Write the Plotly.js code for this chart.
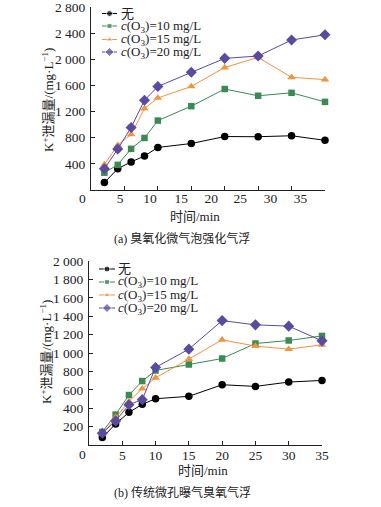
<!DOCTYPE html>
<html><head><meta charset="utf-8">
<script src="https://cdn.plot.ly/plotly-3.0.1.min.js"></script>
<style>body{margin:0;background:#fff;overflow:hidden} #a{width:381px;height:250px} #b{width:381px;height:257px}</style>
</head><body><div id="a"></div><div id="b"></div>
<script>
// ---- data ----
const timeMin = [2, 4, 6, 8, 10, 15, 20, 25, 30, 35];
const seriesNames = ['无', '<i>c</i>(O<sub>3</sub>)=10 mg/L', '<i>c</i>(O<sub>3</sub>)=15 mg/L', '<i>c</i>(O<sub>3</sub>)=20 mg/L'];
// (a) ozonated micro-bubble enhanced flotation
const a_none = [114, 325, 430, 520, 651, 711, 818, 815, 830, 760];
const a_10   = [265, 385, 630, 796, 1062, 1283, 1545, 1442, 1487, 1348];
const a_15   = [390, 686, 851, 1247, 1408, 1584, 1874, 2029, 1724, 1689];
const a_20   = [325, 626, 956, 1373, 1584, 1803, 2014, 2050, 2295, 2375];
// (b) conventional micro-porous aeration ozone flotation
const b_none = [81, 229, 355, 442, 503, 529, 655, 637, 684, 702];
const b_10   = [142, 330, 543, 695, 810, 875, 940, 1103, 1136, 1186];
const b_15   = [117, 301, 474, 612, 731, 934, 1143, 1075, 1042, 1089];
const b_20   = [127, 262, 438, 493, 843, 1042, 1352, 1306, 1292, 1132];
const xTickVals = [5, 10, 15, 20, 25, 30, 35];
const xTickText = ['5', '10', '15', '20', '25', '30', '35'];
const aYTicks = [400, 800, 1200, 1600, 2000, 2400, 2800];
const bYTicks = [200, 400, 600, 800, 1000, 1200, 1400, 1600, 1800, 2000];
const xTitle = '时间/min';
const yTitle = 'K<sup>+</sup>泄漏量/(mg·L<sup>−1</sup>)';
const captionA = '(a) 臭氧化微气泡强化气浮';
const captionB = '(b) 传统微孔曝气臭氧气浮';

// ---- styles ----
const FONT = 'Liberation Serif, "Noto Sans CJK SC", serif';
const styles = [
  {color: '#000000', symbol: 'circle', size: 7.5},
  {color: '#3a8a52', symbol: 'square', size: 6.5},
  {color: '#f29340', symbol: 'triangle-up', size: 7.5},
  {color: '#5a4aa0', symbol: 'diamond', size: 8.5}
];
// shifted label positions as they appear in panel (a)
const aLabelPos = [4.35, 8.84, 13.49, 17.99, 22.34, 26.83, 31.33];

function build(divId, W, H, m, yMax, yTicks, series, legendRows, legendLine, legendTextX, caption, capPos, xTitlePos, yTitlePos, zeroPos, shiftedLabels) {
  const pw = W - m.l - m.r, ph = H - m.t - m.b;
  const px = x => (x - m.l) / pw;
  const py = y => (H - m.b - y) / ph;
  const traces = series.map((ys, i) => ({
    x: timeMin, y: ys, type: 'scatter', mode: 'lines+markers', name: seriesNames[i],
    line: {color: styles[i].color, width: 1},
    marker: {color: styles[i].color, symbol: styles[i].symbol, size: styles[i].size},
    showlegend: false, cliponaxis: false
  }));
  // custom compact legend samples on a pixel-unit overlay axis
  const annotations = [];
  legendRows.forEach((ry, i) => {
    const mid = (legendLine[0] + legendLine[1]) / 2;
    traces.push({
      x: [legendLine[0], mid, legendLine[1]], y: [ry, ry, ry], xaxis: 'x2', yaxis: 'y2',
      type: 'scatter', mode: 'lines+markers', showlegend: false, hoverinfo: 'skip',
      line: {color: styles[i].color, width: 1},
      marker: {color: styles[i].color, symbol: styles[i].symbol, size: [0, styles[i].size - 1.5, 0]}
    });
    annotations.push({xref: 'paper', yref: 'paper', x: px(legendTextX), y: py(ry), xanchor: 'left', yanchor: 'middle',
      text: seriesNames[i], showarrow: false, borderpad: 0, font: {family: FONT, size: 13, color: '#222'}});
  });
  annotations.push({xref: 'paper', yref: 'paper', x: px(capPos[0]), y: py(capPos[1]), xanchor: 'center', yanchor: 'middle',
    text: caption, showarrow: false, font: {family: FONT, size: 12, color: '#222'}});
  annotations.push({xref: 'paper', yref: 'paper', x: px(xTitlePos[0]), y: py(xTitlePos[1]), xanchor: 'center', yanchor: 'middle',
    text: xTitle, showarrow: false, borderpad: 0, font: {family: FONT, size: 13, color: '#222'}});
  annotations.push({xref: 'paper', yref: 'paper', x: px(yTitlePos[0]), y: py(yTitlePos[1]), xanchor: 'center', yanchor: 'middle',
    text: yTitle, showarrow: false, textangle: -90, font: {family: FONT, size: 13, color: '#222'}});
  annotations.push({xref: 'paper', yref: 'paper', x: px(zeroPos[0]), y: py(zeroPos[1]), xanchor: 'center', yanchor: 'middle',
    text: '0', showarrow: false, font: {family: FONT, size: 13.5, color: '#222'}});

  const layout = {
    width: W, height: H, margin: m, paper_bgcolor: '#fff', plot_bgcolor: '#fff',
    separators: '. ', font: {family: FONT, size: 13.5, color: '#222'}, showlegend: false,
    xaxis: {range: [0, 35], tickvals: xTickVals, ticktext: xTickText, showticklabels: !shiftedLabels,
      ticks: 'inside', ticklen: 4, tickcolor: '#222', showline: true, linecolor: '#222', linewidth: 1,
      showgrid: false, zeroline: false, fixedrange: true, ticklabelstandoff: -2, tickfont: {family: FONT, size: 13.5}},
    yaxis: {range: [0, yMax], tickvals: yTicks, tickformat: ',d', ticks: 'inside', ticklen: 4, tickcolor: '#222',
      showline: true, linecolor: '#222', linewidth: 1, showgrid: false, zeroline: false, fixedrange: true,
      ticklabelstandoff: 2, ticklabeloverflow: 'allow', tickfont: {family: FONT, size: 13.5}},
    xaxis2: {range: [m.l, W - m.r], overlaying: 'x', visible: false, fixedrange: true},
    yaxis2: {range: [H - m.b, m.t], overlaying: 'y', visible: false, fixedrange: true},
    annotations: annotations
  };
  if (shiftedLabels) {
    layout.xaxis3 = {range: [0, 35], overlaying: 'x', anchor: 'y', side: 'bottom', tickvals: shiftedLabels, ticktext: xTickText,
      ticks: '', showline: false, showgrid: false, zeroline: false, fixedrange: true, ticklabelstandoff: -2, tickfont: {family: FONT, size: 13.5}};
    traces.push({x: [0], y: [0], xaxis: 'x3', type: 'scatter', mode: 'markers', marker: {opacity: 0}, showlegend: false, hoverinfo: 'skip'});
  }
  Plotly.newPlot(divId, traces, layout, {staticPlot: true, displayModeBar: false});
}

build('a', 381, 250, {l: 91, r: 56, t: 7, b: 60, pad: 0}, 2800, aYTicks, [a_none, a_10, a_15, a_20],
  [13.5, 26, 39.5, 52], [102, 117], 120, captionA, [182, 238], [195, 216], [48, 100], [82, 198.5], aLabelPos);
build('b', 381, 257, {l: 89, r: 59, t: 11, b: 62, pad: 0}, 2000, bYTicks, [b_none, b_10, b_15, b_20],
  [19, 32, 45, 58], [99, 115], 117, captionB, [182, 242], [203, 220], [46, 102], [82, 204], null);
</script></body></html>
